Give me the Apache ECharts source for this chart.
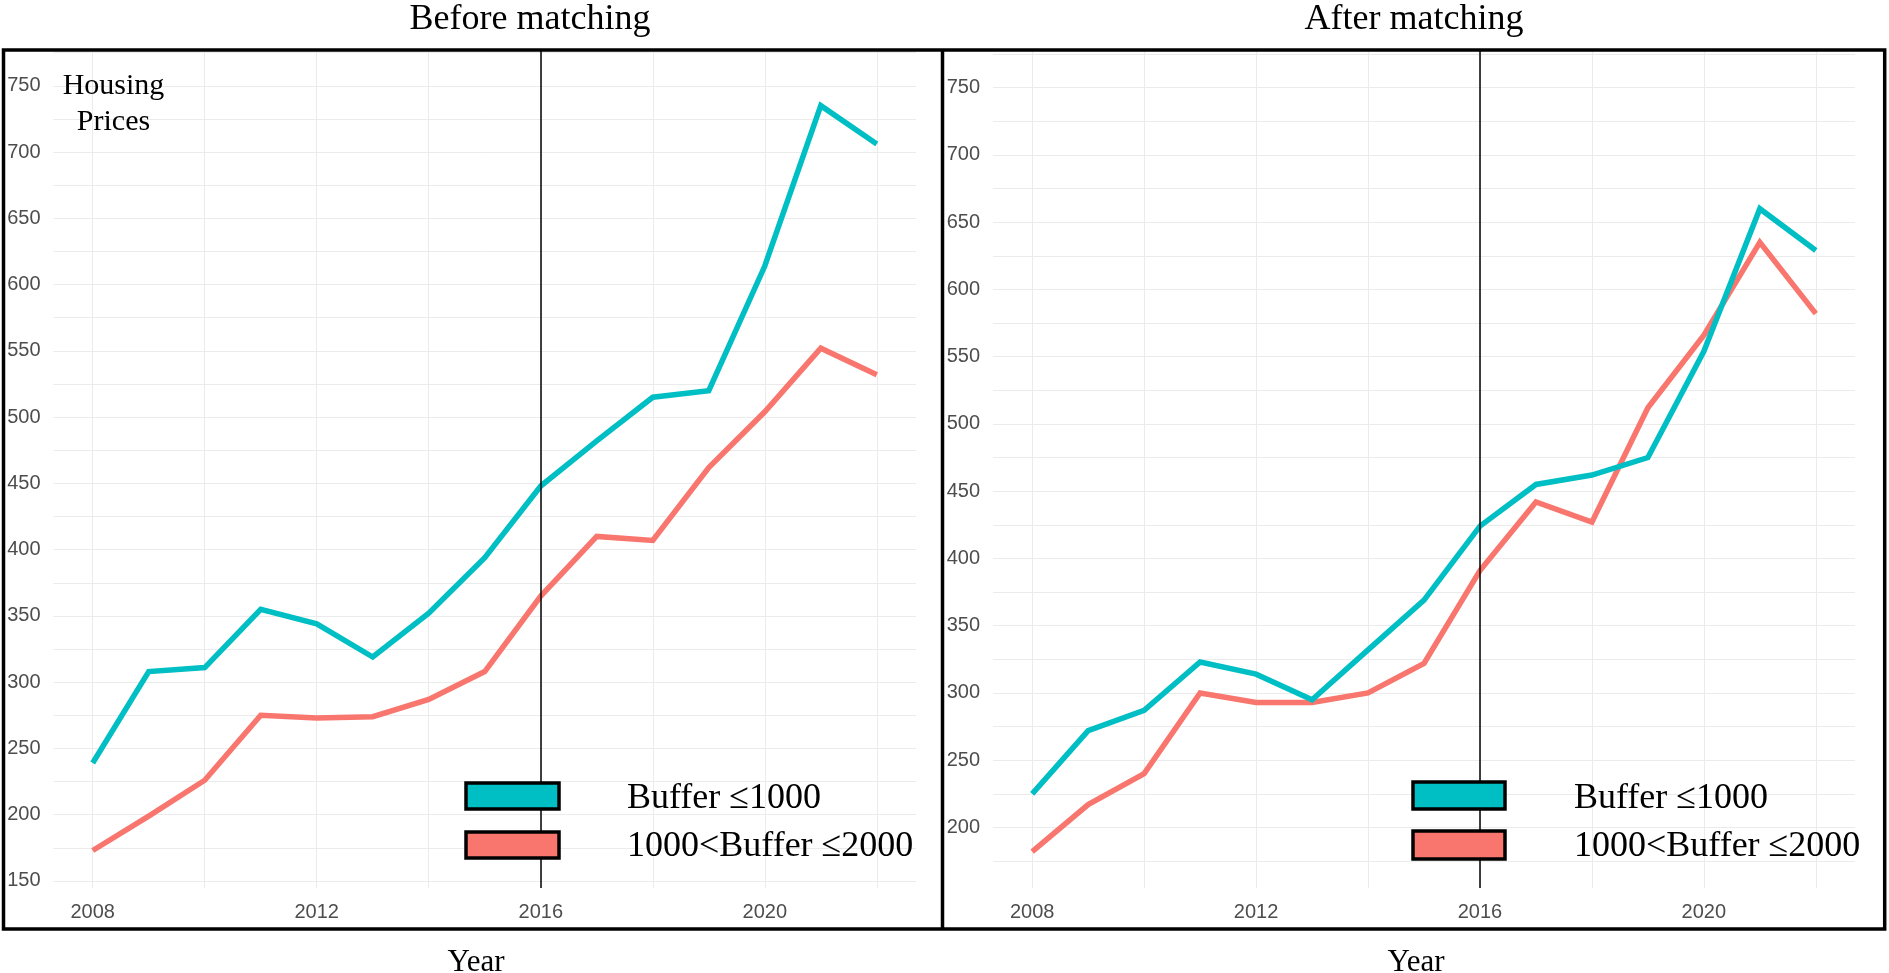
<!DOCTYPE html>
<html>
<head>
<meta charset="utf-8">
<script src="https://cdn.jsdelivr.net/npm/echarts@6/dist/echarts.min.js"></script>
<style>
html,body{margin:0;padding:0;background:#fff;}
#chart{width:1889px;height:973px;}
</style>
</head>
<body>
<div id="chart"></div>
<script>
// ---- data ----
const years = [2008, 2009, 2010, 2011, 2012, 2013, 2014, 2015, 2016, 2017, 2018, 2019, 2020, 2021, 2022];
const beforeBuffer1000 = [239, 308, 311, 355, 344, 319, 352, 394, 448, 482, 515, 520, 614, 735, 706];
const beforeBuffer2000 = [173, 199, 226, 275, 273, 274, 287, 308, 365, 410, 407, 462, 504, 552, 532];
const afterBuffer1000  = [225, 272, 287, 323, 314, 295, 332, 369, 424, 455, 462, 475, 554, 660, 629];
const afterBuffer2000  = [182, 217, 240, 300, 293, 293, 300, 322, 391, 442, 427, 512, 566, 635, 582];
const xLabelYears = [2008, 2012, 2016, 2020];
const yLabelStep = 50;
const policyYear = 2016;
const panelTitles = ['Before matching', 'After matching'];
const seriesNames = ['Buffer \u22641000', '1000<Buffer \u22642000'];
const yAxisTitle = ['Housing', 'Prices'];
const xAxisTitle = 'Year';

const colNear = '#00BFC4';
const colFar = '#F8766D';
const gridCol = '#ebebeb';
const labelCol = '#4d4d4d';
const sans = '"Liberation Sans", Arial, sans-serif';
const serif = '"Liberation Serif", "Times New Roman", serif';

function pairs(vals) { return years.map((y, i) => [y, vals[i]]); }

function xAxisCfg(gi) {
  return {
    type: 'value', gridIndex: gi, min: 2007.3, max: 2022.7,
    minInterval: 2, maxInterval: 2,
    axisLine: {show: false}, axisTick: {show: false},
    splitLine: {show: true, showMinLine: false, showMaxLine: false, lineStyle: {color: gridCol, width: 1}},
    axisLabel: {
      color: labelCol, fontFamily: sans, fontSize: 20, margin: 14,
      showMinLabel: true, showMaxLabel: true,
      formatter: v => xLabelYears.indexOf(Math.round(v * 1000) / 1000) >= 0 ? String(v) : ''
    }
  };
}
function yAxisCfg(gi, mn, mx) {
  return {
    type: 'value', gridIndex: gi, min: mn, max: mx,
    minInterval: 25, maxInterval: 25,
    axisLine: {show: false}, axisTick: {show: false},
    splitLine: {show: true, showMinLine: false, showMaxLine: true, lineStyle: {color: gridCol, width: 1}},
    axisLabel: {
      color: labelCol, fontFamily: sans, fontSize: 20, margin: 13,
      formatter: v => (Math.abs(v - Math.round(v)) < 1e-6 && Math.round(v) % yLabelStep === 0) ? String(Math.round(v)) : ''
    }
  };
}
function lineSeries(name, vals, gi, color, withMark) {
  const s = {
    name: name, type: 'line', xAxisIndex: gi, yAxisIndex: gi,
    data: pairs(vals), showSymbol: false, symbol: 'none', smooth: false,
    lineStyle: {color: color, width: 5.5, cap: 'butt', join: 'miter'},
    itemStyle: {color: color}, z: 2, silent: true
  };
  if (withMark) {
    s.markLine = {
      silent: true, symbol: ['none', 'none'], animation: false,
      label: {show: false},
      lineStyle: {color: '#000', width: 1.5, type: 'solid'},
      data: [{xAxis: policyYear}],
      z: 5
    };
  }
  return s;
}

function txt(text, x, y, size, color) {
  return {
    type: 'text', z: 20,
    style: {
      text: text, x: x, y: y, fill: color || '#000',
      font: 'normal ' + size + 'px ' + serif,
      align: 'center', textAlign: 'center',
      verticalAlign: 'middle', textVerticalAlign: 'middle'
    }
  };
}
function txtLeft(text, x, y, size) {
  const t = txt(text, x, y, size);
  t.style.align = 'left'; t.style.textAlign = 'left';
  return t;
}
function box(x, y, w, h, color) {
  return {
    type: 'rect', z: 20,
    shape: {x: x, y: y, width: w, height: h},
    style: {fill: color, stroke: '#000', lineWidth: 3.5}
  };
}

const chart = echarts.init(document.getElementById('chart'), null, {renderer: 'canvas'});
chart.setOption({
  animation: false,
  backgroundColor: '#fff',
  grid: [
    {left: 53.5, right: 1889 - 916, top: 50, bottom: 85, containLabel: false},
    {left: 993, right: 1889 - 1855, top: 50, bottom: 85, containLabel: false}
  ],
  xAxis: [xAxisCfg(0), xAxisCfg(1)],
  yAxis: [yAxisCfg(0, 144.7, 777), yAxisCfg(1, 155, 778)],
  series: [
    lineSeries(seriesNames[1], beforeBuffer2000, 0, colFar, false),
    lineSeries(seriesNames[0], beforeBuffer1000, 0, colNear, true),
    lineSeries(seriesNames[1], afterBuffer2000, 1, colFar, false),
    lineSeries(seriesNames[0], afterBuffer1000, 1, colNear, true)
  ],
  graphic: [
    // panel frames
    {type: 'rect', z: 30, shape: {x: 3.5, y: 50, width: 1884.7 - 3.5, height: 879},
     style: {fill: 'none', stroke: '#000', lineWidth: 3.5}},
    {type: 'line', z: 30, shape: {x1: 942.5, y1: 50, x2: 942.5, y2: 929},
     style: {stroke: '#000', lineWidth: 3.5}},
    // titles
    txt(panelTitles[0], 530, 20, 36),
    txt(panelTitles[1], 1414, 20, 36),
    // y title
    txt(yAxisTitle[0], 113.5, 86, 30),
    txt(yAxisTitle[1], 113.5, 122, 30),
    // x titles
    txt(xAxisTitle, 476, 963, 31),
    txt(xAxisTitle, 1416, 963, 31),
    // legends left
    box(466, 783, 93, 26, colNear),
    box(466, 832, 93, 26, colFar),
    txtLeft(seriesNames[0], 627, 799, 36),
    txtLeft(seriesNames[1], 627, 847, 36),
    // legends right
    box(1413, 782, 92, 27, colNear),
    box(1413, 831, 92, 28, colFar),
    txtLeft(seriesNames[0], 1574, 799, 36),
    txtLeft(seriesNames[1], 1574, 847, 36)
  ]
});
</script>
</body>
</html>
